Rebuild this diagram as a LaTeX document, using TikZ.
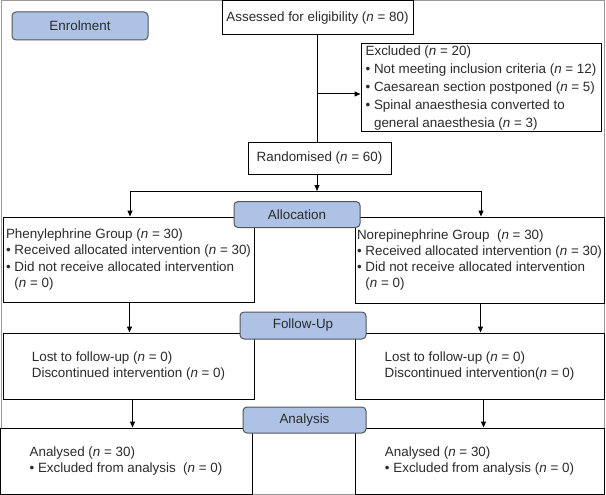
\documentclass[tikz,border=0pt]{standalone}
\usepackage{fontspec}
\setmainfont{Liberation Sans}
\usetikzlibrary{arrows.meta}

\definecolor{stageblue}{HTML}{ADC2E5}
\definecolor{stageline}{HTML}{555555}
\definecolor{framegray}{HTML}{9A9A9A}
\definecolor{inkgray}{HTML}{2B2B2B}

\newcommand{\nn}[1]{(\textit{n} = #1)}
\newcommand{\bul}{\textbullet\ }
\newcommand{\ind}{\phantom{\textbullet\ }}

\begin{document}
\begin{tikzpicture}
  [
    x = 1pt, y = -1pt,
    every node/.style = {font = \fontsize{13.4}{16.3}\selectfont, text = inkgray},
    box/.style = {draw = black, line width = 1pt, fill = white, align = left, inner sep = 0pt},
    stage/.style = {draw = stageline, fill = stageblue, line width = 1pt, rounded corners = 4pt,
        minimum width = 126, minimum height = 26, inner sep = 0pt},
    arr/.style = {draw = black, line width = 1pt, -{Triangle[length = 6pt, width = 5pt]}},
    link/.style = {draw = black, line width = 1pt},
  ]

  \useasboundingbox (0,0) rectangle (606,495);
  \draw[framegray, line width = 1.5pt] (1.5,0.5) rectangle (604.5,494.5);

  \node[stage, minimum width = 136, minimum height = 28] (enrol) at (80,26) {Enrolment};

  \node[box, minimum width = 191, minimum height = 34] (assess) at (317.5,18)
    {Assessed for eligibility \nn{80}};
  \node[box, minimum width = 240, minimum height = 88,
        font = \fontsize{13.4}{17.8}\selectfont] (excl) at (481,88)
    {Excluded \nn{20}\\
     \bul Not meeting inclusion criteria \nn{12}\\
     \bul Caesarean section postponed \nn{5}\\
     \bul Spinal anaesthesia converted to\\
     \ind general anaesthesia \nn{3}};
  \node[box, minimum width = 143, minimum height = 31] (rand) at (319.5,158.5)
    {Randomised \nn{60}};

  \node[box, minimum width = 251, minimum height = 85] (phen) at (128.5,259.5)
    {Phenylephrine Group \nn{30}\\
     \bul Received allocated intervention \nn{30}\\
     \bul Did not receive allocated intervention\\
     \ind\nn{0}};
  \node[box, minimum width = 249, minimum height = 86] (nore) at (479.5,260)
    {Norepinephrine Group\ \ \nn{30}\\
     \bul Received allocated intervention \nn{30}\\
     \bul Did not receive allocated intervention\\
     \ind\nn{0}};
  \node[stage] (alloc) at (297,214.5) {Allocation};

  \node[box, minimum width = 251, minimum height = 66] (fuL) at (128.5,366)
    {Lost to follow-up \nn{0}\\
     Discontinued intervention \nn{0}};
  \node[box, minimum width = 249, minimum height = 66] (fuR) at (479.5,366)
    {Lost to follow-up \nn{0}\\
     Discontinued intervention\nn{0}};
  \node[stage, minimum height = 27] (follow) at (303,325.5) {Follow-Up};

  \node[box, minimum width = 252, minimum height = 66] (anL) at (126,461)
    {Analysed \nn{30}\\
     \bul Excluded from analysis\ \ \nn{0}};
  \node[box, minimum width = 249, minimum height = 66] (anR) at (479.5,461)
    {Analysed \nn{30}\\
     \bul Excluded from analysis \nn{0}};
  \node[stage, minimum width = 123] (analysis) at (304.5,420) {Analysis};

  \coordinate (exclin) at ([yshift = -6pt]excl.west);
  \coordinate (split) at (317,191);

  \draw[link] (assess.south -| split) -- (rand.north -| split);
  \draw[arr] (split |- exclin) -- (exclin);
  \draw[arr] (rand.south -| split) -- (split);
  \draw[arr] (split) -| ([xshift = 1.5pt]phen.north);
  \draw[arr] (split) -| ([xshift = 1.5pt]nore.north);

  \foreach \a/\b in {phen/fuL, nore/fuR}{
      \draw[arr] ([xshift = 1pt]\a.south) -- ([xshift = 1pt]\a.south |- \b.north);
    }
  \foreach \a/\b in {fuL/anL, fuR/anR}{
      \draw[arr] ([xshift = 4pt]\a.south) -- ([xshift = 4pt]\a.south |- \b.north);
    }

\end{tikzpicture}
\end{document}
